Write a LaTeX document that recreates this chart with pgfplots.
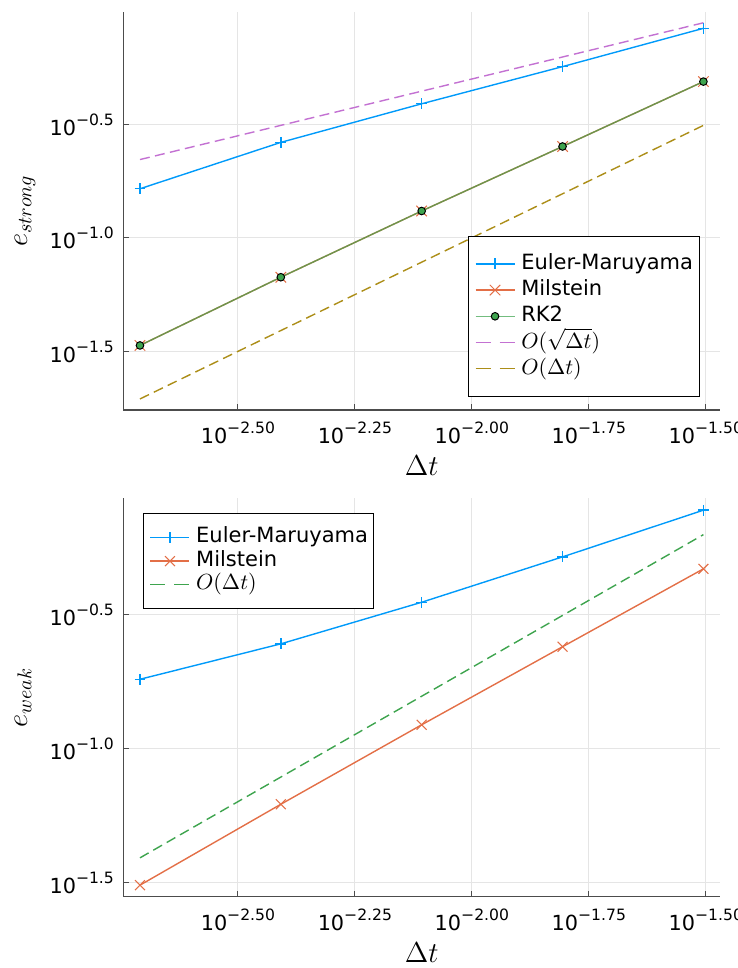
\documentclass[border=0pt]{standalone}
\usepackage{pgfplots}
\pgfplotsset{compat=1.18}
\usepackage{fontspec}
\setmainfont{DejaVu Sans}
\definecolor{c1}{RGB}{0,154,250}
\definecolor{c2}{RGB}{227,111,71}
\definecolor{c3}{RGB}{62,164,78}
\definecolor{c4}{RGB}{195,113,210}
\definecolor{c5}{RGB}{172,142,24}
\newcommand{\tp}[1]{10\raisebox{5pt}{\fontsize{7.8}{8}\selectfont −#1}}
\pgfplotsset{
  every axis/.append style={
    xmode=log, ymode=log, scale only axis, width=298.5pt,
    xmin=0.001799, xmax=0.03396,
    axis x line*=bottom, axis y line*=left,
    axis line style={line width=0.75pt, black!70, -},
    tick align=inside, major tick length=3pt,
    tick style={black!70, line width=0.5pt},
    grid=major, major grid style={black!10, line width=0.5pt},
    xtick={0.00316228,0.00562341,0.01,0.01778279,0.03162278},
    xticklabels={\tp{2.50},\tp{2.25},\tp{2.00},\tp{1.75},\tp{1.50}},
    ytick={0.0316228,0.1,0.316228},
    yticklabels={\tp{1.5},\tp{1.0},\tp{0.5}},
    ticklabel style={font=\fontsize{10.4}{11}\selectfont, inner sep=0pt},
    xticklabel style={anchor=base, yshift=-17pt},
    yticklabel style={anchor=base east, xshift=-4.5pt, yshift=-5.5pt},
    xlabel={$\Delta t$},
    label style={font=\fontsize{14}{14}\selectfont},
    xlabel style={at={(axis description cs:0.5,-0.165)}, anchor=base},
    ylabel style={at={(axis description cs:-0.161,0.5)}, anchor=base},
    legend cell align=left,
    legend image code/.code={\draw[mark repeat=2,mark phase=2,#1] plot coordinates {(0pt,0pt)(9.75pt,0pt)(19.5pt,0pt)};},
    legend style={draw=black, line width=0.5pt, fill=white,
      font=\fontsize{10.5}{12}\selectfont, inner xsep=3pt,
      row sep=0pt, nodes={inner sep=0pt, anchor=west},
      /tikz/every odd column/.append style={column sep=3pt}},
  },
  dashleg/.style={legend image code/.code={\draw[##1, dash pattern=on 7.5pt off 4.5pt] (0pt,0pt) -- (19.5pt,0pt);}},
}
\tikzset{
  emS/.style={c1, line width=0.7pt, mark=+, mark size=2.7pt, mark options={solid}},
  milS/.style={c2, line width=0.7pt, mark=x, mark size=3.2pt, mark options={solid}},
  dashS/.style={#1, line width=0.7pt, dash pattern=on 5pt off 2.7pt},
}
\begin{document}
\begin{tikzpicture}
\begin{axis}[at={(61.65pt,279pt)}, anchor=south west, height=199.2pt,
  ymin=0.01746, ymax=0.990,
  ylabel={$e_{strong}$},
  legend style={inner ysep=7.2pt, nodes={text height=9.4pt, text depth=3.7pt}, at={(axis description cs:0.578,0.437)}, anchor=north west}]
\addplot[emS] coordinates {(0.001953125,0.1644)(0.00390625,0.2630)(0.0078125,0.3890)(0.015625,0.5668)(0.03125,0.8356)};
\addlegendentry{Euler-Maruyama}
\addplot[milS, mark size=3.7pt, mark options={solid, line width=0.5pt}] coordinates {(0.001953125,0.03359)(0.00390625,0.06706)(0.0078125,0.1312)(0.015625,0.2523)(0.03125,0.4870)};
\addlegendentry{Milstein}
\addplot[c3, line width=0.7pt, draw opacity=0.72, mark=*, mark size=1.9pt, mark options={fill=c3, draw=black, line width=0.5pt, draw opacity=1}] coordinates {(0.001953125,0.03359)(0.00390625,0.06706)(0.0078125,0.1312)(0.015625,0.2523)(0.03125,0.4870)};
\addlegendentry{RK2}
\addplot[dashS=c4, dashleg] coordinates {(0.001953125,0.22097)(0.00390625,0.3125)(0.0078125,0.44194)(0.015625,0.625)(0.03125,0.88388)};
\addlegendentry{$O(\sqrt{\Delta t})$}
\addplot[dashS=c5, dashleg] coordinates {(0.001953125,0.01953125)(0.00390625,0.0390625)(0.0078125,0.078125)(0.015625,0.15625)(0.03125,0.3125)};
\addlegendentry{$O(\Delta t)$}
\end{axis}
\begin{axis}[at={(61.65pt,35.65pt)}, anchor=south west, height=199.3pt,
  ymin=0.02799, ymax=0.855,
  ylabel={$e_{weak}$},
  legend style={inner ysep=6pt, nodes={text height=8.5pt, text depth=3.3pt}, at={(axis description cs:0.0335,0.962)}, anchor=north west}]
\addplot[emS] coordinates {(0.001953125,0.1807)(0.00390625,0.2449)(0.0078125,0.3499)(0.015625,0.5164)(0.03125,0.7709)};
\addlegendentry{Euler-Maruyama}
\addplot[milS, mark size=3.5pt, mark options={solid, line width=0.55pt}] coordinates {(0.001953125,0.03090)(0.00390625,0.06185)(0.0078125,0.1223)(0.015625,0.2389)(0.03125,0.4660)};
\addlegendentry{Milstein}
\addplot[dashS=c3, dashleg] coordinates {(0.001953125,0.0390625)(0.00390625,0.078125)(0.0078125,0.15625)(0.015625,0.3125)(0.03125,0.625)};
\addlegendentry{$O(\Delta t)$}
\end{axis}
\pgfresetboundingbox
\useasboundingbox (0pt,0pt) rectangle (369pt,484pt);
\end{tikzpicture}
\end{document}
